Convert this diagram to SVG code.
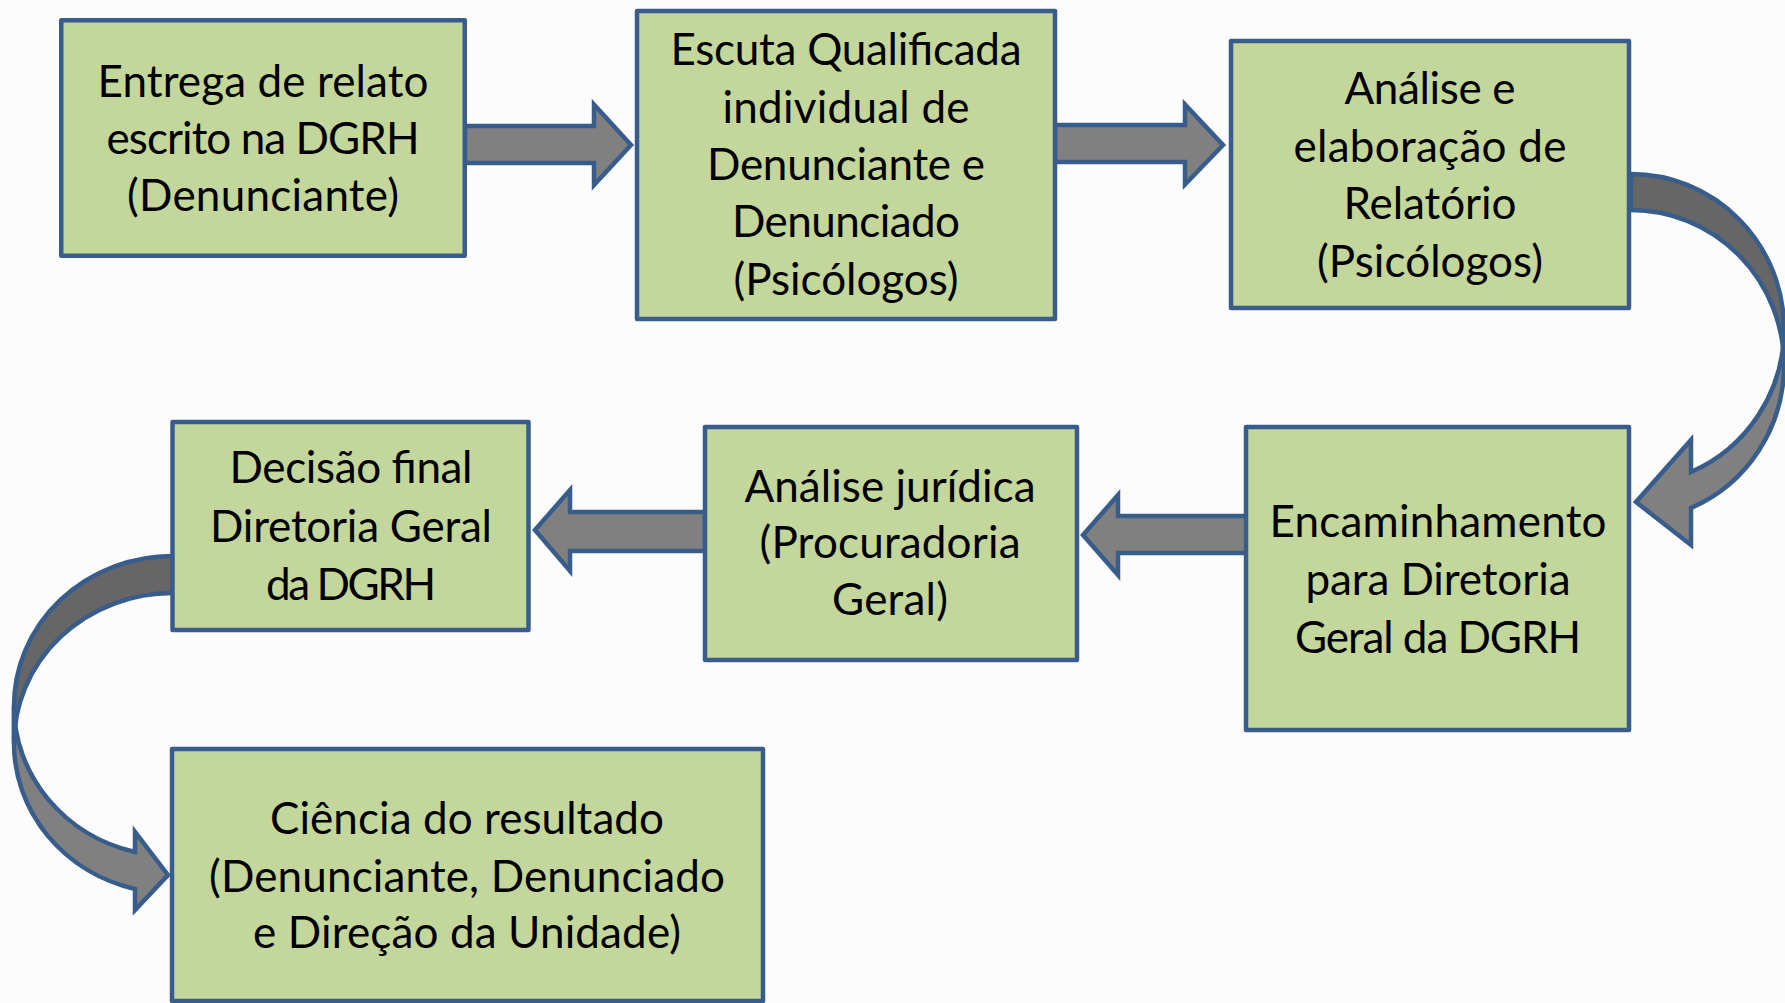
<svg xmlns="http://www.w3.org/2000/svg" width="1785" height="1003" viewBox="0 0 1785 1003">
<style>
.box{fill:#C3D69B;stroke:#385D8A;stroke-width:4.5;stroke-linejoin:round}
.arr{fill:#808080;stroke:#385D8A;stroke-width:4.5;stroke-linejoin:miter}
.dark{fill:#666666;stroke:#385D8A;stroke-width:4.5;stroke-linejoin:miter}
text{font-family:Lato,"Open Sans","Liberation Sans",sans-serif;font-size:44px;fill:#000;text-anchor:middle}
</style>
<rect width="1785" height="1003" fill="#FCFCFC"/>
<g id="connectors">
<polygon class="arr" points="465,126 594,126 594,104.5 631,145 594,185 594,163 465,163"/>
<polygon class="arr" points="1055,125 1185,125 1185,104.5 1223,145 1185,184.5 1185,162 1055,162"/>
<polygon class="arr" points="1248,516 1118,516 1118,495 1083,535 1118,575 1118,553 1248,553"/>
<polygon class="arr" points="705,512 570,512 570,490 535,530 570,571 570,551 705,551"/>
<path class="dark" d="M1631,174 A153,155.2 0 0 1 1784,329.2 L1784,365.2 A153,155.2 0 0 0 1631,210 Z"/>
<path class="arr" d="M1784,329.2 A153,155.2 0 0 1 1691,472 L1691,440 L1636,502 L1691,545 L1691,508 A153,155.2 0 0 0 1784,365.2 Z"/>
<path class="dark" d="M172.5,556 A158.5,150.1 0 0 0 14,706.1 L14,743.1 A158.5,150.1 0 0 1 172.5,593 Z"/>
<path class="arr" d="M14,706.1 A158.5,150.1 0 0 0 135,852 L135,832 L168,875 L135,910 L135,889 A158.5,150.1 0 0 1 14,743.1 Z"/>
</g>
<g id="n1">
<rect class="box" x="61.25" y="20.25" width="403.5" height="235.5"/>
<text x="263" y="97" textLength="331">Entrega de relato</text>
<text x="263" y="154" textLength="313">escrito na DGRH</text>
<text x="263" y="211" textLength="272">(Denunciante)</text>
</g>
<g id="n2">
<rect class="box" x="637" y="11" width="418" height="308"/>
<text x="846" y="65" textLength="351">Escuta Qualificada</text>
<text x="846" y="122.5" textLength="247">individual de</text>
<text x="846" y="180" textLength="278">Denunciante e</text>
<text x="846" y="237" textLength="228">Denunciado</text>
<text x="846" y="295" textLength="225">(Psicólogos)</text>
</g>
<g id="n3">
<rect class="box" x="1231" y="41" width="398" height="267"/>
<text x="1430" y="104" textLength="171">Análise e</text>
<text x="1430" y="162" textLength="273">elaboração de</text>
<text x="1430" y="219" textLength="173">Relatório</text>
<text x="1430" y="277" textLength="226">(Psicólogos)</text>
</g>
<g id="n4">
<rect class="box" x="1246" y="427" width="383" height="303"/>
<text x="1438" y="537" textLength="337">Encaminhamento</text>
<text x="1438" y="595" textLength="265">para Diretoria</text>
<text x="1438" y="653" textLength="286">Geral da DGRH</text>
</g>
<g id="n5">
<rect class="box" x="705" y="427" width="372" height="233"/>
<text x="890" y="502" textLength="291">Análise jurídica</text>
<text x="890" y="558" textLength="261">(Procuradoria</text>
<text x="890" y="615" textLength="116">Geral)</text>
</g>
<g id="n6">
<rect class="box" x="172.5" y="422" width="356" height="208"/>
<text x="351" y="483" textLength="243">Decisão final</text>
<text x="351" y="542" textLength="282">Diretoria Geral</text>
<text x="351" y="600" textLength="170">da DGRH</text>
</g>
<g id="n7">
<rect class="box" x="172" y="749" width="591" height="252"/>
<text x="467" y="834" textLength="394">Ciência do resultado</text>
<text x="467" y="892" textLength="516">(Denunciante, Denunciado</text>
<text x="467" y="948" textLength="428">e Direção da Unidade)</text>
</g>
</svg>
